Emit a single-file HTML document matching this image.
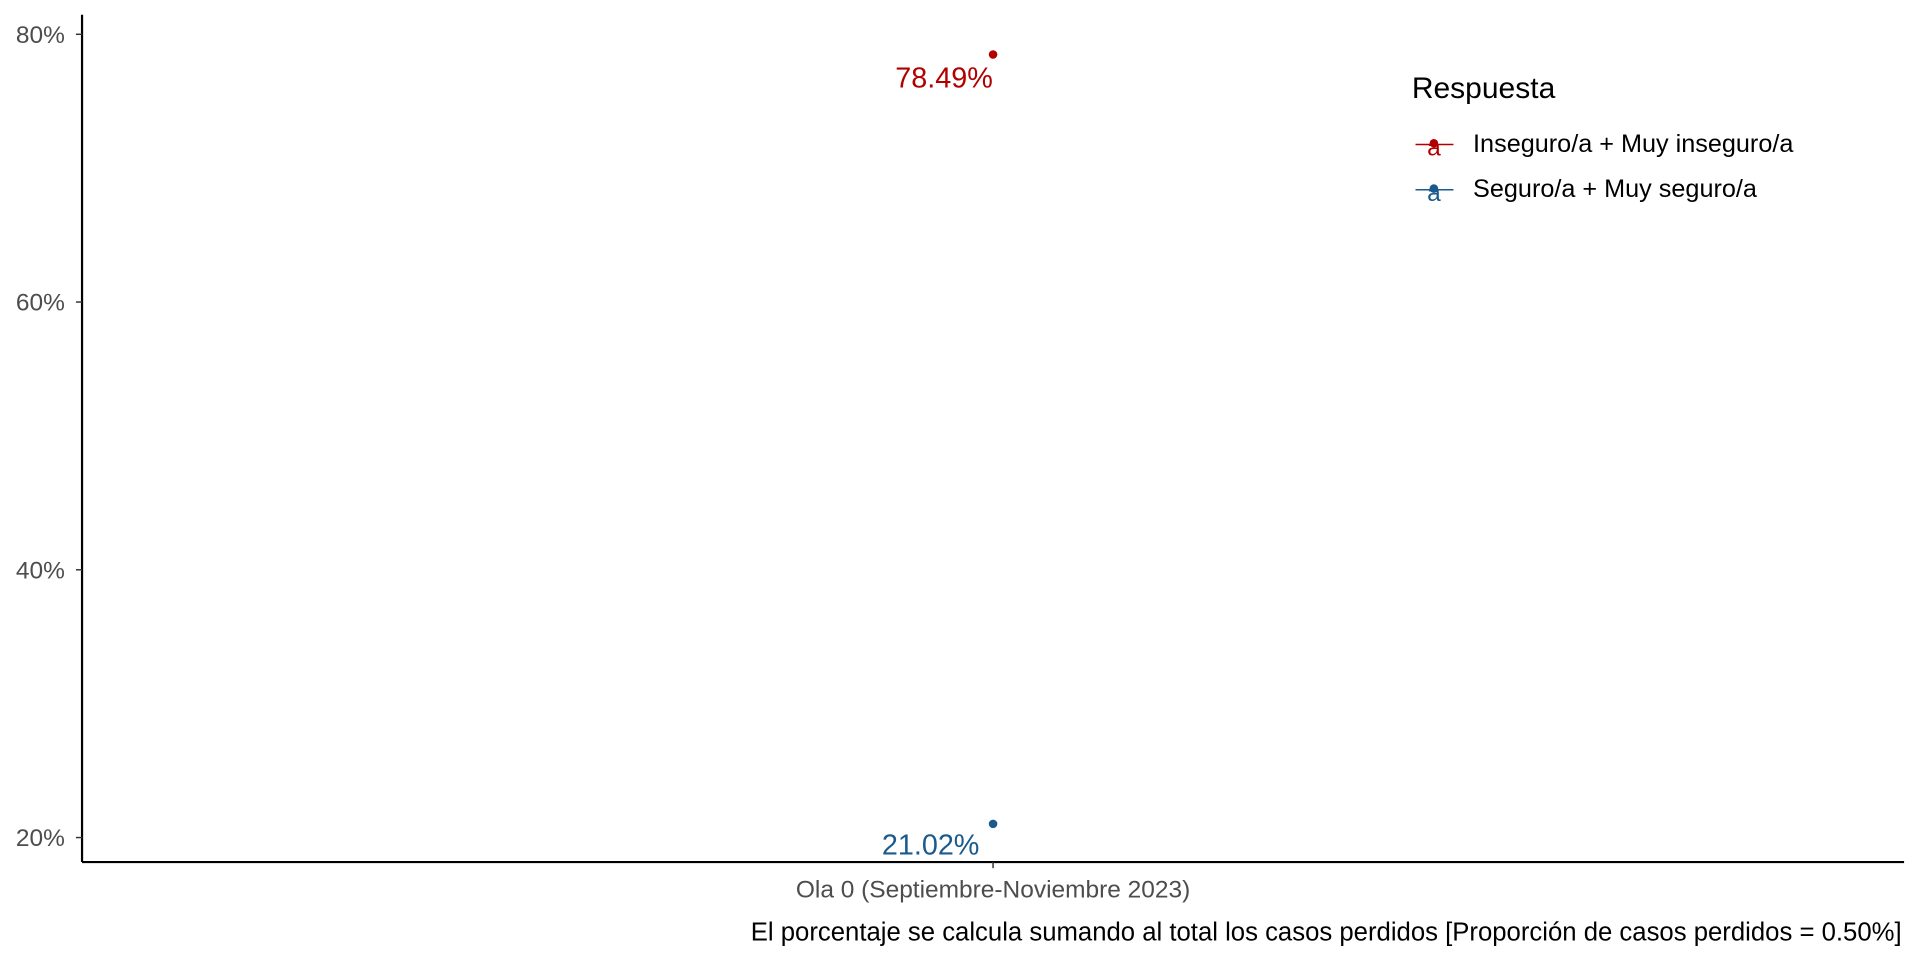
<!DOCTYPE html>
<html><head><meta charset="utf-8"><style>
html,body{margin:0;padding:0;background:#fff;}
svg{display:block;font-family:"Liberation Sans",Arial,sans-serif;}
</style></head><body>
<svg width="1920" height="960" viewBox="0 0 1568 784" xmlns="http://www.w3.org/2000/svg">
<g id="axes"></g>
<g id="marks"></g>
<g>
  <text x="1153" y="80" font-size="24.5" fill="#000">Respuesta</text>
  <g>
    <line x1="1156" y1="118" x2="1187" y2="118" stroke="#b20000" stroke-width="1.2"/>
    <circle cx="1171" cy="117" r="3.5" fill="#b20000"/>
    <text x="1171" y="127" font-size="20" fill="#b20000" text-anchor="middle">a</text>
    <text x="1203" y="124" font-size="20.6" fill="#000">Inseguro/a + Muy inseguro/a</text>
  </g>
  <g>
    <line x1="1156" y1="155" x2="1187" y2="155" stroke="#1a5a8c" stroke-width="1.2"/>
    <circle cx="1171" cy="154" r="3.5" fill="#1a5a8c"/>
    <text x="1171" y="164" font-size="20" fill="#1a5a8c" text-anchor="middle">a</text>
    <text x="1203" y="161" font-size="20.6" fill="#000">Seguro/a + Muy seguro/a</text>
  </g>
</g>
<text x="1553" y="768" font-size="21" fill="#000" text-anchor="end">El porcentaje se calcula sumando al total los casos perdidos [Proporción de casos perdidos = 0.50%]</text>
</svg>
<script>
const categories = ["Ola 0 (Septiembre-Noviembre 2023)"];
const seriesNames = ["Inseguro/a + Muy inseguro/a", "Seguro/a + Muy seguro/a"];
const inseguroValues = [78.49];
const seguroValues = [21.02];
const yTicks = [20, 40, 60, 80];
const yTickLabels = ["20%", "40%", "60%", "80%"];

const NS = "http://www.w3.org/2000/svg";
const plotLeft = 67, plotRight = 1555, plotBottom = 704, plotTop = 12;
function yScale(v){ return 684 - (v - 20) * (684 - 28) / 60; }
function xScale(i){ return plotLeft + (plotRight - plotLeft) * (i + 0.5) / categories.length; }
function mk(tag, attrs, parent){ const e = document.createElementNS(NS, tag); for (const k in attrs) e.setAttribute(k, attrs[k]); parent.appendChild(e); return e; }
const axesG = document.getElementById('axes');
const marksG = document.getElementById('marks');

const yl = mk('line', {x1:plotLeft, y1:plotTop, x2:plotLeft, y2:plotBottom, stroke:'#000', 'stroke-width':1.8}, axesG);


const xl = mk('line', {x1:plotLeft, y1:plotBottom, x2:plotRight, y2:plotBottom, stroke:'#000', 'stroke-width':1.8}, axesG);



yTicks.forEach((t, i) => {
  const tk = mk('line', {x1:plotLeft-5, y1:yScale(t), x2:plotLeft, y2:yScale(t), stroke:'#333', 'stroke-width':1.2}, axesG);
  
  
  const tx = mk('text', {x:53, y:yScale(t)+7, 'font-size':20, fill:'#4d4d4d', 'text-anchor':'end'}, axesG);
  tx.textContent = yTickLabels[i];
  
  
});
categories.forEach((c, i) => {
  const tk = mk('line', {x1:xScale(i), y1:plotBottom, x2:xScale(i), y2:plotBottom+5, stroke:'#333', 'stroke-width':1.2}, axesG);
  
  
  const tx = mk('text', {x:xScale(i), y:plotBottom+29, 'font-size':20, fill:'#4d4d4d', 'text-anchor':'middle'}, axesG);
  tx.textContent = c;
  
  
});

function drawSeries(vals, color, name, dx, dy){
  vals.forEach((v, i) => {
    const p = mk('circle', {cx:xScale(i), cy:yScale(v), r:3.5, fill:color}, marksG);
    
    
    const t = mk('text', {x:xScale(i)+dx, y:yScale(v)+dy, 'font-size':23.5, fill:color, 'text-anchor':'middle'}, marksG);
    t.textContent = v.toFixed(2) + '%';
    
    
  });
}
drawSeries(inseguroValues, '#b20000', 'inseguro', -40, 27);
drawSeries(seguroValues, '#1a5a8c', 'seguro', -51, 25);
</script>
</body></html>
